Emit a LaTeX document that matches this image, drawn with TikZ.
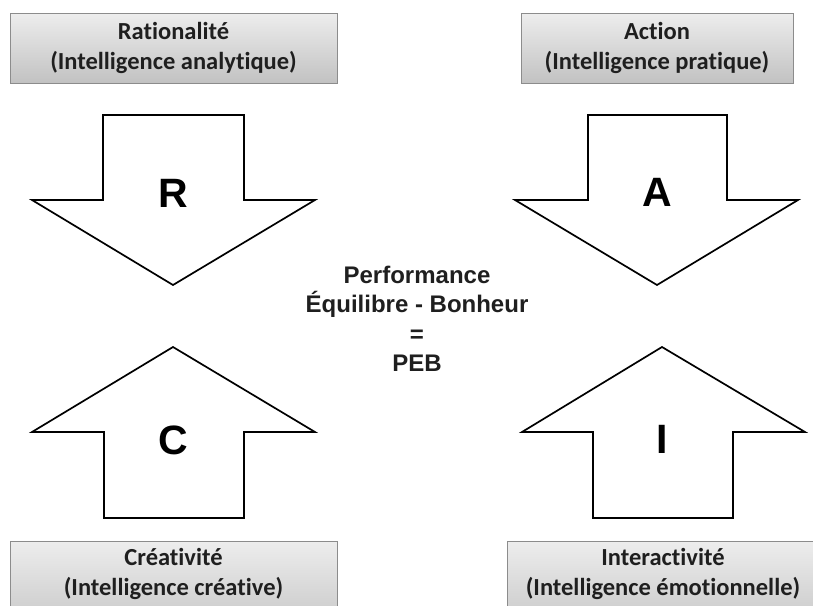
\documentclass[tikz,border=0pt]{standalone}
\usepackage{fontspec}
\setmainfont{Carlito}[Ligatures=CommonOff]
\newfontfamily\arialfont{Liberation Sans}
\usetikzlibrary{shadings}
\begin{document}
\begin{tikzpicture}[x=1pt,y=-1pt,
  labelbox/.style={draw=black!45,line width=0.8pt,top color=black!7,bottom color=black!24},
  boxtext/.style={font=\fontsize{24.5}{30}\selectfont\bfseries,align=center,text=black!88},
  bigarrow/.style={draw=black,line width=1.7pt,fill=white,line join=miter},
  letter/.style={font=\arialfont\fontsize{41}{41}\selectfont\bfseries},
  centertext/.style={font=\arialfont\fontsize{24}{29.5}\selectfont\bfseries,align=center,text=black!88}]
\useasboundingbox (0,0) rectangle (813,605);
\fill[white] (0,0) rectangle (813,605);
\begin{scope}
\clip (0,0) rectangle (813,605);
% label boxes
\draw[labelbox] (10,13) rectangle (337,83);
\draw[labelbox] (521,13) rectangle (793,83);
\draw[labelbox] (10,541) rectangle (337,640);
\draw[labelbox] (507,541) rectangle (830,640);
\end{scope}
\node[boxtext] (rat) at (173.5,48) {Rationalité\\(Intelligence analytique)};
\node[boxtext] (act) at (657,48) {Action\\(Intelligence pratique)};
\node[boxtext] (cre) at (173.5,574) {Créativité\\(Intelligence créative)};
\node[boxtext] (inter) at (663,574) {Interactivité\\(Intelligence émotionnelle)};
% down arrows
\draw[bigarrow] (103,115) -- (244,115) -- (244,200) -- (315,200) -- (173,285) -- (32,200) -- (103,200) -- cycle;
\draw[bigarrow] (588,115) -- (727,115) -- (727,200) -- (798,200) -- (657,285) -- (515,200) -- (588,200) -- cycle;
% up arrows
\draw[bigarrow] (104,518) -- (244,518) -- (244,432) -- (315,432) -- (173,347) -- (32,432) -- (104,432) -- cycle;
\draw[bigarrow] (593,518) -- (733,518) -- (733,432) -- (805,432) -- (662,347) -- (522,432) -- (593,432) -- cycle;
\node[letter] (r) at (173,193) {R};
\node[letter] (a) at (657,192) {A};
\node[letter] (c) at (173,440) {C};
\node[letter] (i) at (662,439) {I};
\node[centertext] (peb) at (417,319) {Performance\\Équilibre - Bonheur\\=\\PEB};
\end{tikzpicture}
\end{document}
